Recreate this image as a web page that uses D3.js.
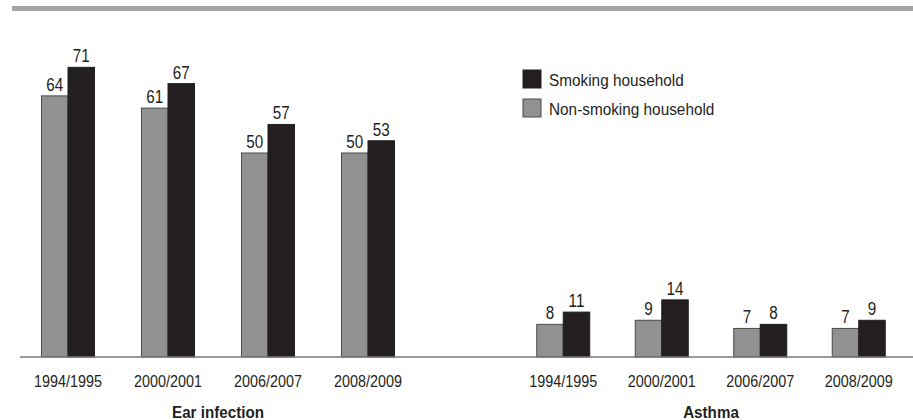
<!DOCTYPE html>
<html>
<head>
<meta charset="utf-8">
<script src="https://cdn.jsdelivr.net/npm/d3@7"></script>
<style>
  body { margin: 0; background: #fff; }
  text { font-family: "Liberation Sans", Arial, sans-serif; fill: #231f20; }
</style>
</head>
<body>
<svg id="chart"></svg>
<script>
// data
const years = ["1994/1995", "2000/2001", "2006/2007", "2008/2009"];
const series = ["Non-smoking household", "Smoking household"];
const earNonSmoking = [64, 61, 50, 50];
const earSmoking = [71, 67, 57, 53];
const asthmaNonSmoking = [8, 9, 7, 7];
const asthmaSmoking = [11, 14, 8, 9];

const width = 913, height = 420;
const baseY = 357;
const narrow = 0.87;   // the original type is a condensed grotesque
const colors = { "Non-smoking household": "#919194", "Smoking household": "#231f20" };

const svg = d3.select("#chart")
    .attr("width", width)
    .attr("height", height);

// top band
svg.append("rect")
    .attr("x", 12).attr("y", 6)
    .attr("width", width - 12).attr("height", 5)
    .attr("fill", "#a5a5a5");

// y scale shared
const y = d3.scaleLinear()
    .domain([0, 80])
    .range([baseY, baseY - 80 * 4.08]);

const panels = [
    { title: "Ear infection", range: [18, 418], values: [earNonSmoking, earSmoking] },
    { title: "Asthma", range: [514, 908], values: [asthmaNonSmoking, asthmaSmoking] }
];

panels.forEach(p => {
    const x = d3.scaleBand().domain(years).range(p.range);
    const xs = d3.scaleBand().domain(series).range([-26.5, 26.5]);

    const rows = [];
    years.forEach((yr, i) => {
        series.forEach((s, j) => rows.push({ year: yr, series: s, value: p.values[j][i] }));
    });

    const g = svg.append("g");

    g.selectAll("rect")
        .data(rows)
        .enter()
        .append("rect")
            .attr("x", d => x(d.year) + x.bandwidth() / 2 + xs(d.series))
            .attr("y", d => y(d.value))
            .attr("width", xs.bandwidth())
            .attr("height", d => y(0) - y(d.value))
            .attr("fill", d => colors[d.series])
            .attr("stroke", d => d.series === series[0] ? "#4a4a4a" : "#231f20")
            .attr("stroke-width", 1);

    g.selectAll("text.val")
        .data(rows)
        .enter()
        .append("text")
            .attr("class", "val")
            .attr("transform", d => `translate(${x(d.year) + x.bandwidth() / 2 + xs(d.series) + xs.bandwidth() / 2},${y(d.value) - 5}) scale(${narrow},1)`)
            .attr("text-anchor", "middle")
            .style("font-size", "17.5px")
            .text(d => d.value);

    // axis labels
    svg.append("g")
        .attr("transform", `translate(0,${baseY})`)
        .call(d3.axisBottom(x).tickSize(0).tickPadding(18))
        .call(a => a.select(".domain").remove())
        .selectAll("text")
            .style("font-family", "'Liberation Sans', Arial, sans-serif")
            .style("font-size", "16.5px")
            .attr("transform", `scale(${narrow},1)`)
            .attr("fill", "#231f20");

    // panel title
    svg.append("text")
        .attr("transform", `translate(${(x(years[0]) + x(years[3]) + x.bandwidth()) / 2},418) scale(0.95,1)`)
        .attr("text-anchor", "middle")
        .style("font-size", "16px")
        .style("font-weight", "bold")
        .text(p.title);
});

// baseline
svg.append("line")
    .attr("x1", 20).attr("x2", width)
    .attr("y1", baseY).attr("y2", baseY)
    .attr("stroke", "#7a7a7a")
    .attr("stroke-width", 1.5);

// legend
const legendItems = [series[1], series[0]];
const legend = svg.append("g").attr("transform", "translate(523,70)");
legendItems.forEach((s, i) => {
    legend.append("rect")
        .attr("x", 0).attr("y", i * 29)
        .attr("width", 18).attr("height", 18)
        .attr("fill", colors[s])
        .attr("stroke", i === 1 ? "#4a4a4a" : "#231f20");
    legend.append("text")
        .attr("transform", `translate(26,${i * 29 + 16}) scale(0.93,1)`)
        .style("font-size", "16.5px")
        .text(s);
});
</script>
</body>
</html>
